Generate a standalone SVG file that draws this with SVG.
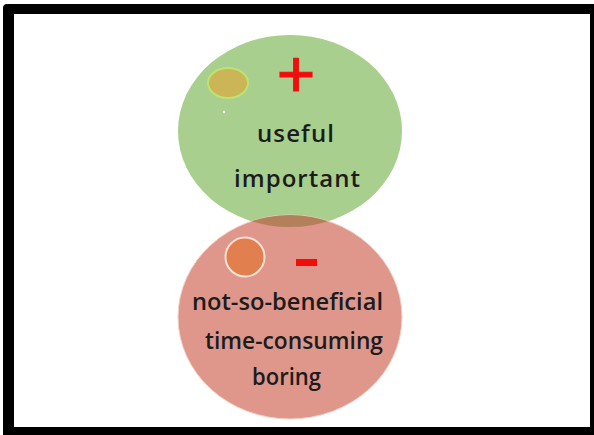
<svg xmlns="http://www.w3.org/2000/svg" width="594" height="435" viewBox="0 0 594 435">
<style>
.lbl{font-family:"Open Sans",Lato,"Liberation Sans",sans-serif;font-size:24px;font-weight:600;fill:#1c1c1c}
.sign{font-family:"Liberation Sans",Arial,sans-serif;fill:#f20d0d}
</style>
<defs>
<clipPath id="greenClip"><ellipse cx="290" cy="131" rx="112" ry="96"/></clipPath>
</defs>
<rect x="0" y="0" width="594" height="435" fill="#ffffff"/>
<path d="M7,4 H600 V440 H3 V8 Q3,4 7,4 Z M14,14 V427 H590 V14 Z" fill="#000000" fill-rule="evenodd"/>
<g id="positive">
<ellipse cx="290" cy="131" rx="112" ry="96" fill="#a8cf8d"/>
<ellipse cx="228" cy="83" rx="20" ry="15" fill="#cbb556" stroke="#bde374" stroke-width="2"/>
<circle cx="224" cy="112" r="1.2" fill="#ffffff"/>
<text class="sign" x="296" y="97" font-size="66" text-anchor="middle" stroke="#f20d0d" stroke-width="1">+</text>
<text class="lbl" x="257" y="142" textLength="77" lengthAdjust="spacing">useful</text>
<text class="lbl" x="234" y="187" textLength="126" lengthAdjust="spacing">important</text>
</g>
<g id="negative">
<ellipse cx="290" cy="317" rx="112" ry="102" fill="#df978c" stroke="#f3d2c8" stroke-width="1"/>
<ellipse cx="290" cy="317" rx="112" ry="102" fill="#b3805b" clip-path="url(#greenClip)"/>
<circle cx="245" cy="257" r="19.5" fill="#e27f4e" stroke="#fbe2d6" stroke-width="2"/>
<rect x="296" y="259" width="21" height="7" fill="#f20d0d"/>
<text class="lbl" x="192" y="310" textLength="191" lengthAdjust="spacingAndGlyphs">not-so-beneficial</text>
<text class="lbl" x="205" y="349" textLength="178" lengthAdjust="spacingAndGlyphs">time-consuming</text>
<text class="lbl" x="252" y="385" textLength="69" lengthAdjust="spacingAndGlyphs">boring</text>
</g>
<g id="connectors"/>
</svg>
